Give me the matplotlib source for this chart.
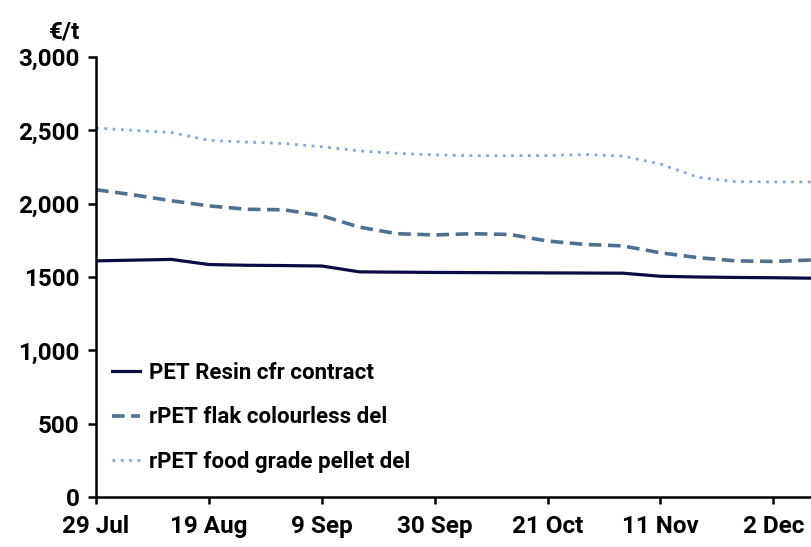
import matplotlib
matplotlib.use("Agg")
import matplotlib.pyplot as plt
import matplotlib.dates as mdates
import numpy as np
from datetime import datetime

# weekly assessments, 29 Jul - 9 Dec
week_labels = ["2024-07-29", "2024-08-05", "2024-08-12", "2024-08-19", "2024-08-26",
               "2024-09-02", "2024-09-09", "2024-09-16", "2024-09-23", "2024-09-30",
               "2024-10-07", "2024-10-14", "2024-10-21", "2024-10-28", "2024-11-04",
               "2024-11-11", "2024-11-18", "2024-11-25", "2024-12-02", "2024-12-09"]

pet_resin = [1610, 1615, 1620, 1585, 1580, 1578, 1575, 1535, 1533, 1531,
             1530, 1529, 1528, 1527, 1526, 1505, 1500, 1497, 1495, 1492]
rpet_flake = [2095, 2060, 2020, 1985, 1962, 1958, 1918, 1840, 1795, 1787,
              1795, 1790, 1745, 1722, 1712, 1665, 1632, 1610, 1606, 1616]
rpet_pellet = [2515, 2500, 2485, 2432, 2420, 2410, 2388, 2360, 2343, 2333,
               2327, 2327, 2328, 2335, 2325, 2270, 2180, 2150, 2148, 2148]

series_names = ["PET Resin cfr contract", "rPET flak colourless del",
                "rPET food grade pellet del"]

y_ticks = [0, 500, 1000, 1500, 2000, 2500, 3000]
y_tick_labels = ["0", "500", "1,000", "1500", "2,000", "2,500", "3,000"]

dates = [datetime.strptime(d, "%Y-%m-%d") for d in week_labels]

plt.rcParams['font.family'] = ['Roboto', 'DejaVu Sans']
plt.rcParams['font.weight'] = 'semibold'

fig = plt.figure(figsize=(8.11, 5.47), dpi=100)
ax = fig.add_axes([0.1184, 0.0914, 0.8816, 0.8044])

ax.plot(dates, pet_resin, color="#0b0c45", lw=2.3, label=series_names[0])
ax.plot(dates, rpet_flake, color="#50708f", lw=2.6, ls=(0, (3.5, 1.8)),
        label=series_names[1])
ax.plot(dates, rpet_pellet, color="#7fa9d6", lw=2.0, ls=(0, (1, 2)),
        label=series_names[2])

ax.set_xlim(dates[0], dates[-1])
ax.set_ylim(0, 3000)
ax.set_yticks(y_ticks)
ax.set_yticklabels(y_tick_labels)
ax.set_xticks(dates[::3])
ax.xaxis.set_major_formatter(mdates.DateFormatter("%-d %b"))

for side in ["top", "right"]:
    ax.spines[side].set_visible(False)
for side in ["left", "bottom"]:
    ax.spines[side].set_linewidth(1.8)
    ax.spines[side].set_color("black")

ax.tick_params(axis="both", direction="out", length=6, width=1.8,
               labelsize=17.5, colors="black", pad=6)
ax.tick_params(axis="x", length=5, pad=8)

ax.text(-0.022, 1.03, "€/t", transform=ax.transAxes, ha="right", va="bottom",
        fontsize=17.5)

leg = ax.legend(loc="lower left", bbox_to_anchor=(0.0, 0.02), frameon=False,
                fontsize=16, handlelength=1.3, handletextpad=0.4,
                labelspacing=1.0, borderaxespad=0.3)

fig.savefig("out.png", dpi=100)
